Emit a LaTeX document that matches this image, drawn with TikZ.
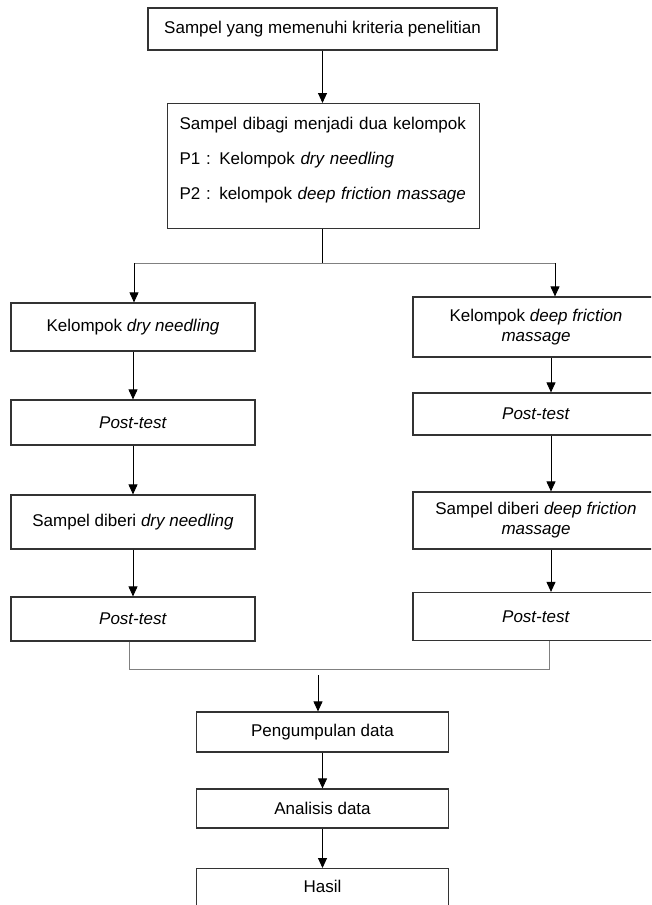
\documentclass[tikz,border=0pt]{standalone}
\usepackage{fontspec}
\setmainfont{Liberation Sans}
\usepackage{tikz}
\usetikzlibrary{arrows.meta}

\begin{document}
\begin{tikzpicture}
      [
        x=1pt, y=-1pt,
        box/.style={draw=black!80, line width=1.2pt, fill=white, inner sep=0pt,
          align=center, font=\fontsize{17}{20}\selectfont},
        arr/.style={-{Triangle[length=10pt,width=9pt]}, line width=0.9pt},
        mergeline/.style={draw=black!50, line width=0.8pt}
      ]
      \useasboundingbox (0,0) rectangle (651,905);
      \clip (0,0) rectangle (651,905);
      % top
      \node [box, minimum width=349pt, minimum height=42pt] (start) at (322.5,29)
        {Sampel yang memenuhi kriteria penelitian};
      \node [box, anchor=north west, align=left, text width=288pt, inner xsep=12pt,
        font=\fontsize{17}{35}\selectfont] (groups) at (167,103)
        {\rule{0pt}{26pt}Sampel dibagi menjadi dua kelompok\\
         P1 : Kelompok \textit{dry needling}\\
         P2 : kelompok \textit{deep friction massage}\rule[-29pt]{0pt}{29pt}};
      % left column
      \node [box, minimum width=244pt, minimum height=48pt] (ldry) at (133,327)
        {Kelompok \textit{dry needling}};
      \node [box, minimum width=244pt, minimum height=45pt] (lpre) at (133,422.5)
        {\textit{Post-test}};
      \node [box, minimum width=244pt, minimum height=54pt] (lgive) at (133,522)
        {Sampel diberi \textit{dry needling}};
      \node [box, minimum width=244pt, minimum height=44pt] (lpost) at (133,619)
        {\textit{Post-test}};
      % right column
      \node [box, minimum width=246pt, minimum height=60pt] (rdeep) at (536,327)
        {Kelompok \textit{deep friction}\\\textit{massage}};
      \node [box, minimum width=246pt, minimum height=42pt] (rpre) at (536,414)
        {\textit{Post-test}};
      \node [box, minimum width=246pt, minimum height=57pt] (rgive) at (536,520.5)
        {Sampel diberi \textit{deep friction}\\\textit{massage}};
      \node [box, minimum width=246pt, minimum height=48pt] (rpost) at (536,616.5)
        {\textit{Post-test}};
      % bottom
      \node [box, minimum width=252pt, minimum height=40pt] (collect) at (322.5,732)
        {Pengumpulan data};
      \node [box, minimum width=252pt, minimum height=39pt] (analyse) at (322.5,808.5)
        {Analisis data};
      \node [box, anchor=north, minimum width=252pt, inner ysep=12pt, text height=12pt,
        text depth=30pt] (result) at (322.5,868) {Hasil};
      % fork and merge points
      \coordinate (fork) at (322,263);
      \coordinate (forkl) at (134,263);
      \coordinate (forkr) at (555,263);
      \coordinate (rcol) at (551,0);
      \coordinate (mergel) at (129,669);
      \coordinate (merger) at (549,669);
      \coordinate (mergec) at (318,675);
      % edges
      \draw [arr] (start.south) -- (groups.north -| start.south);
      \draw [line width=0.9pt] (groups.south -| fork) -- (fork);
      \draw [mergeline] (forkl) -- (forkr);
      \draw [arr] (forkl) -- (ldry.north -| forkl);
      \draw [arr] (forkr) -- (rdeep.north -| forkr);
      \draw [arr] (ldry.south) -- (lpre.north);
      \draw [arr] (lpre.south) -- (lgive.north);
      \draw [arr] (lgive.south) -- (lpost.north);
      \draw [arr] (rdeep.south -| rcol) -- (rpre.north -| rcol);
      \draw [arr] (rpre.south -| rcol) -- (rgive.north -| rcol);
      \draw [arr] (rgive.south -| rcol) -- (rpost.north -| rcol);
      \draw [mergeline] (lpost.south -| mergel) -- (mergel) -- (merger) -- (rpost.south -| merger);
      \draw [arr] (mergec) -- (collect.north -| mergec);
      \draw [arr] (collect.south) -- (analyse.north);
      \draw [arr] (analyse.south) -- (result.north);
\end{tikzpicture}
\end{document}
